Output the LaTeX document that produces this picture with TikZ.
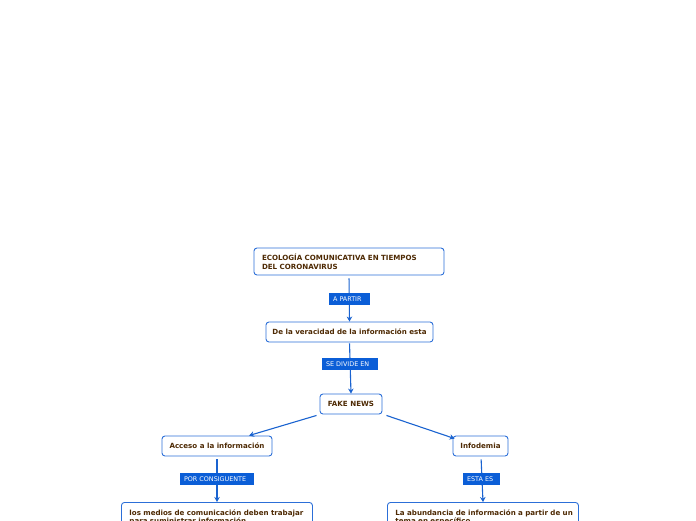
\documentclass[tikz,border=0pt]{standalone}
\usepackage{fontspec}
\setmainfont{DejaVu Sans}
\usetikzlibrary{arrows.meta,calc}
\definecolor{edgeblue}{HTML}{1A63D0}
\definecolor{boxblue}{HTML}{2C6FD8}
\definecolor{labblue}{HTML}{0B5ED7}
\definecolor{txtbrown}{HTML}{4E2A04}
\tikzset{
  conc/.style={draw=boxblue, line width=0.9pt, fill=white, rounded corners=3pt,
    font=\fontsize{7.1}{8.6}\selectfont\bfseries, text=txtbrown, inner sep=0pt},
  lab/.style={fill=labblue, text=white, font=\fontsize{6.4}{7}\selectfont,
    minimum height=12pt, inner xsep=4pt, inner ysep=0pt, align=left},
  conn/.style={draw=edgeblue, line width=1.1pt, -{Stealth[length=5pt,width=5.5pt]}}
}
\begin{document}
\begin{tikzpicture}[x=1pt,y=-1pt]
\useasboundingbox (0,0) rectangle (696,520);
\clip (0,0) rectangle (696,520);
% concept boxes
\node[conc, minimum width=190pt, minimum height=27pt, text width=174pt, align=left] (top) at (349,261.5)
  {ECOLOGÍA COMUNICATIVA EN TIEMPOS\\DEL CORONAVIRUS};
\node[conc, minimum width=167pt, minimum height=20pt, align=center] (ver) at (349.5,332)
  {De la veracidad de la información esta};
\node[conc, minimum width=62pt, minimum height=20pt, align=center] (fake) at (351,404)
  {FAKE NEWS};
\node[conc, minimum width=110pt, minimum height=20pt, align=center] (acc) at (217,446)
  {Acceso a la información};
\node[conc, minimum width=55pt, minimum height=20pt, align=center] (info) at (480.5,446)
  {Infodemia};
\node[conc, anchor=north west, minimum width=191pt, text width=175pt,
  align=left, inner xsep=8pt, inner ysep=7pt] (med) at (121,502)
  {\makebox[175pt][l]{los medios de comunicación deben trabajar}\\para suministrar información};
\node[conc, anchor=north west, minimum width=191pt, text width=175pt,
  align=left, inner xsep=8pt, inner ysep=7pt] (abu) at (387,502)
  {\makebox[175pt][l]{La abundancia de información a partir de un}\\tema en específico};
% connectors
\draw[conn, shorten <=3pt] (top.south) -- (ver.north);
\draw[conn, shorten <=1pt] (ver.south) -- (fake.north);
\draw[conn] ($(fake.south west)+(-3,1)$) -- ($(acc.north)+(32,0)$);
\draw[conn] ($(fake.south east)+(4,1)$) -- ($(info.north west)+(2,3)$);
\draw[conn, shorten <=3pt] (acc.south) -- (acc.south |- med.north);
\draw[conn, shorten <=3pt] ($(info.south)+(0.5,0)$) -- ($(med.north -| info.south)+(2.5,0)$);
% linking phrases
\node[lab, minimum width=41pt, text width=33pt] (l1) at (349.5,299) {A PARTIR};
\node[lab, minimum width=56pt, text width=48pt] (l2) at (350,364) {SE DIVIDE EN};
\node[lab, minimum width=74pt, text width=66pt] (l3) at (217,479) {POR CONSIGUENTE};
\node[lab, minimum width=37pt, text width=29pt] (l4) at (481.5,479) {ESTA ES};
\end{tikzpicture}
\end{document}
